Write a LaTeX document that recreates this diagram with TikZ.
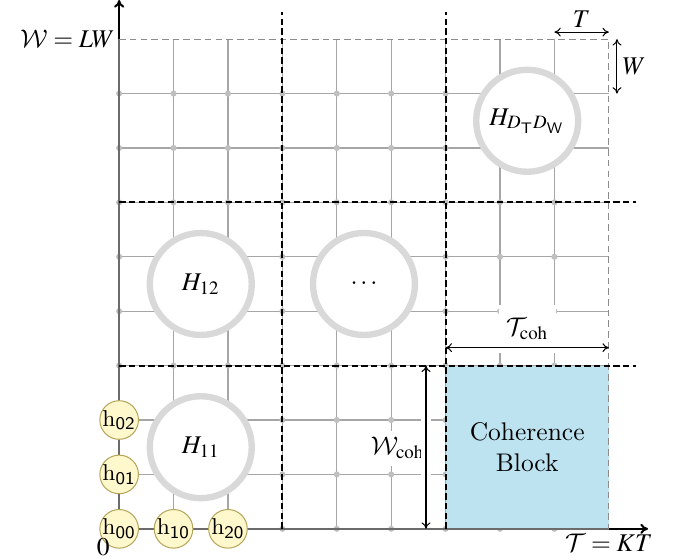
\documentclass[tikz,border=0pt]{standalone}
\usepackage{mathptmx}
\usepackage[scaled=0.9]{helvet}
\DeclareMathAlphabet{\mathcal}{OMS}{cmsy}{m}{n}
\usetikzlibrary{arrows.meta,calc}
\definecolor{blockblue}{RGB}{190,227,240}
\definecolor{hfill}{RGB}{255,248,204}
\definecolor{hdraw}{RGB}{180,165,90}
\tikzset{
 gridline/.style={black!35, line width=0.45pt},
 axisgray/.style={black!58, line width=0.9pt},
 axisline/.style={black, line width=0.8pt, -{To[length=3pt,width=4pt]}},
 blockline/.style={black, line width=0.8pt, dash pattern=on 2.5pt off 1.3pt},
 edgeline/.style={black!45, line width=0.45pt, dash pattern=on 2.6pt off 1.6pt},
 gdot/.style={circle, fill=black!25, inner sep=0pt, minimum size=2.4pt},
 bigcirc/.style={circle, draw=black!15, line width=2.5pt, fill=white, minimum size=40pt, inner sep=0pt},
 hnode/.style={circle, draw=hdraw, fill=hfill, line width=0.4pt, minimum size=12.5pt, inner sep=0pt, font=\small},
 dimarrow/.style={{To[length=2.5pt,width=3.5pt]}-{To[length=2.5pt,width=3.5pt]}, line width=0.4pt},
 whiteback/.style={white, line width=4pt, shorten <=2pt, shorten >=2pt},
}
\newcommand{\hlab}[1]{\textsf{h}$_{\mathsf{#1}}$}
\begin{document}
\begin{tikzpicture}[x=0.75cm,y=0.75cm]
\useasboundingbox (-2.19,-0.57) rectangle (10.18,9.72);
% axes
\coordinate (O) at (0,0);
\coordinate (xend) at (9.72,0);
\coordinate (yend) at (0,9.72);
\coordinate (xnine) at (9,0);
\coordinate (ynine) at (0,9);
\draw[axisline] (O) -- (xend);
\draw[axisline] (O) -- (yend);
% grid
\foreach \i in {1,...,8} {
  \draw[gridline] (\i,0) -- (\i,9);
  \draw[gridline] (0,\i) -- (9,\i);
}
\foreach \i in {0,...,8} {
  \foreach \j in {0,...,8} {
    \node[gdot] (d\i\j) at (\i,\j) {};
  }
}
% coherence block
\node[fill=blockblue, inner sep=0pt, minimum width=2.25cm, minimum height=2.25cm, align=center] (block) at (7.5,1.5) {Coherence\\Block};
\draw[axisgray] (O) -- (xnine);
\draw[axisgray] (O) -- (ynine);
% big circles
\node[bigcirc] (H11) at (1.5,1.5) {$H_{11}$};
\node[bigcirc] (H12) at (1.5,4.5) {$H_{12}$};
\node[bigcirc] (Hdots) at (4.5,4.5) {$\cdots$};
\node[bigcirc] (HD) at (7.5,7.5) {$H_{D_{\mathsf{T}}D_{\mathsf{W}}}$};
% dimension coordinates
\coordinate (tc1) at (6,3.33);
\coordinate (tc2) at (9,3.33);
\coordinate (wc1) at (5.64,3);
\coordinate (wc2) at (5.64,0);
\coordinate (t1) at (8,9.13);
\coordinate (t2) at (9,9.13);
\coordinate (w1) at (9.15,9);
\coordinate (w2) at (9.15,8);
% label backgrounds
\node[fill=white, inner sep=0pt, minimum width=0.79cm, minimum height=0.67cm] (tcoh) at (7.5,3.675) {$\mathcal{T}_{\mathrm{coh}}$};
\node[fill=white, inner sep=2.5pt] (wcoh) at (5.12,1.48) {$\mathcal{W}_{\mathrm{coh}}$};
\draw[whiteback] (wc1) -- (wc2);
\draw[whiteback] (tc1) -- (tc2);
% dashed lines
\coordinate (e1) at (9,9);
\draw[edgeline] (ynine) -- (e1) -- (xnine);
\coordinate (v3a) at (3,0);
\coordinate (v3b) at (3,9.5);
\coordinate (v6a) at (6,0);
\coordinate (v6b) at (6,9.5);
\coordinate (h3a) at (0,3);
\coordinate (h3b) at (9.5,3);
\coordinate (h6a) at (0,6);
\coordinate (h6b) at (9.5,6);
\draw[blockline] (v3a) -- (v3b);
\draw[blockline] (v6a) -- (v6b);
\draw[blockline] (h3a) -- (h3b);
\draw[blockline] (h6a) -- (h6b);
% dimension arrows
\draw[dimarrow] (tc1) -- (tc2);
\draw[dimarrow] (wc1) -- (wc2);
\draw[dimarrow] (t1) -- (t2);
\draw[dimarrow] (w1) -- (w2);
\node[above, inner sep=1.5pt] (tlab) at ($(t1)!0.5!(t2)$) {$T$};
\node[right, inner sep=2pt] (wlab) at ($(w1)!0.5!(w2)$) {$W$};
% h nodes
\node[hnode] (h00) at (0,0) {\hlab{00}};
\node[hnode] (h10) at (1,0) {\hlab{10}};
\node[hnode] (h20) at (2,0) {\hlab{20}};
\node[hnode] (h01) at (0,1) {\hlab{01}};
\node[hnode] (h02) at (0,2) {\hlab{02}};
% axis labels
\node[anchor=east, inner sep=1.5pt] (Wlab) at (ynine) {$\mathcal{W}=LW$};
\node[anchor=north, inner sep=2pt] (Tlab) at (xnine) {$\mathcal{T}=KT$};
\node[anchor=north east, inner sep=3.5pt] (zero) at (O) {$0$};
\end{tikzpicture}
\end{document}
